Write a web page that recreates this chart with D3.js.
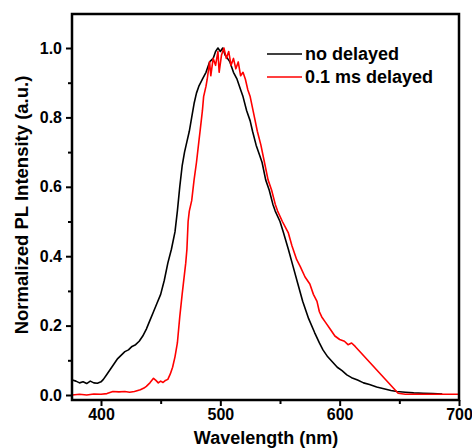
<!DOCTYPE html>
<html>
<head>
    <title>PL spectra</title>
    <script src="https://d3js.org/d3.v7.min.js"></script>
    <style>
        body { margin: 0; background: #fff; }
        text { font-family: "Liberation Sans", Arial, sans-serif; font-weight: bold; fill: #000; }
    </style>
</head>
<body>
    <svg width="472" height="448"></svg>
    <script>
        // wavelength (nm) and normalized intensity
        var blackNm = [376,379,382,385,388,391,394,397,400,402,405,408,411,414,417,420,423,426,429,432,435,438,441,444,447,450,453,456,459,462,464,466,468,470,472,474,476,478,480,482,485,488,491,494,496,498,500,502,504,506,508,511,514,517,519,522,525,527,530,533,535,538,541,544,546,550,553,557,561,565,569,574,579,583,586,590,594,598,602,606,610,615,620,625,631,637,643,648,655,662,670,678,686];
        var blackVal = [0.043,0.04,0.035,0.038,0.033,0.04,0.035,0.034,0.038,0.045,0.06,0.075,0.09,0.105,0.115,0.125,0.13,0.14,0.145,0.155,0.17,0.19,0.215,0.24,0.265,0.29,0.33,0.38,0.42,0.47,0.53,0.6,0.66,0.7,0.73,0.76,0.8,0.84,0.87,0.89,0.91,0.93,0.96,0.97,0.99,1.0,0.99,1.0,0.98,0.97,0.96,0.93,0.91,0.88,0.86,0.82,0.79,0.76,0.72,0.69,0.67,0.62,0.59,0.55,0.53,0.5,0.467,0.42,0.37,0.32,0.27,0.22,0.18,0.15,0.13,0.11,0.095,0.08,0.07,0.058,0.05,0.043,0.035,0.03,0.023,0.018,0.013,0.01,0.008,0.006,0.005,0.004,0.003];

        var redNm = [376,382,388,394,400,405,410,415,420,424,428,433,436,438,441,444,446,448,450,452,454,456,458,460,462,464,466,468,469,471,472,473,474,476,478,480,482,483,485,486,488,489,491,492,494,496,498,499,501,503,505,507,509,511,513,515,517,519,521,523,525,528,531,534,537,540,543,546,548,552,555,557,560,564,567,571,575,578,581,583,585,588,592,596,600,604,607,610,613,649,655,670,685,700];
        var redVal = [0.0,0.002,0.0,0.003,0.002,0.004,0.01,0.009,0.01,0.008,0.01,0.015,0.02,0.025,0.035,0.048,0.042,0.035,0.04,0.036,0.042,0.045,0.06,0.08,0.11,0.15,0.225,0.29,0.32,0.38,0.42,0.5,0.53,0.56,0.62,0.67,0.73,0.76,0.82,0.86,0.89,0.91,0.96,0.92,0.97,0.95,0.99,0.93,0.98,1.0,0.97,0.99,0.95,0.97,0.94,0.96,0.92,0.93,0.91,0.88,0.86,0.81,0.76,0.72,0.67,0.62,0.59,0.55,0.53,0.5,0.48,0.467,0.43,0.39,0.37,0.34,0.32,0.29,0.27,0.24,0.225,0.21,0.19,0.17,0.16,0.155,0.145,0.15,0.14,0.005,0.002,0.002,0.002,0.002];

        var xTicks = [400, 500, 600, 700];
        var yTicks = [0.0, 0.2, 0.4, 0.6, 0.8, 1.0];
        var seriesNames = ["no delayed", "0.1 ms delayed"];
        var seriesColors = ["#000000", "#ff0000"];

        var svg = d3.select("svg");
        var plotL = 72, plotR = 459, plotT = 14, plotB = 400;

        var x = d3.scaleLinear().domain([375.7, 700]).range([plotL, plotR]);
        var y = d3.scaleLinear().domain([-0.0144, 1.098]).range([plotB, plotT]);

        var line = d3.line()
            .x(function(d) { return x(d[0]); })
            .y(function(d) { return y(d[1]); });

        var series = [
            d3.zip(blackNm, blackVal),
            d3.zip(redNm, redVal)
        ];

        svg.append("clipPath").attr("id", "plotclip")
            .append("rect").attr("x", plotL).attr("y", plotT)
            .attr("width", plotR - plotL).attr("height", plotB - plotT);

        var plot = svg.append("g").attr("clip-path", "url(#plotclip)");
        plot.selectAll("path.curve")
            .data(series)
            .enter().append("path")
            .attr("class", "curve")
            .attr("d", line)
            .attr("fill", "none")
            .attr("stroke", function(d, i) { return seriesColors[i]; })
            .attr("stroke-width", 1.6)
            .attr("stroke-linejoin", "round");

        // x axis
        var xAxis = d3.axisBottom(x)
            .tickValues(xTicks)
            .tickSize(6)
            .tickPadding(3)
            .tickFormat(d3.format("d"));
        var gx = svg.append("g")
            .attr("transform", "translate(0," + plotB + ")")
            .call(xAxis);

        var gxMinor = svg.append("g")
            .attr("transform", "translate(0," + plotB + ")")
            .call(d3.axisBottom(x).tickValues([450, 550, 650]).tickSize(4).tickFormat(""));

        // y axis
        var yAxis = d3.axisLeft(y)
            .tickValues(yTicks)
            .tickSize(6)
            .tickPadding(4)
            .tickFormat(d3.format(".1f"));
        var gy = svg.append("g")
            .attr("transform", "translate(" + plotL + ",0)")
            .call(yAxis);
        var gyMinor = svg.append("g")
            .attr("transform", "translate(" + plotL + ",0)")
            .call(d3.axisLeft(y).tickValues([0.1, 0.3, 0.5, 0.7, 0.9]).tickSize(4).tickFormat(""));

        [gx, gxMinor, gy, gyMinor].forEach(function(g) {
            g.select(".domain").remove();
            g.selectAll("line").attr("stroke", "#000").attr("stroke-width", 2);
            g.selectAll("text").style("font-size", "16px").attr("fill", "#000");
        });

        // frame
        svg.append("rect")
            .attr("x", plotL).attr("y", plotT)
            .attr("width", plotR - plotL).attr("height", plotB - plotT)
            .attr("fill", "none").attr("stroke", "#000").attr("stroke-width", 2.5);

        // axis titles
        svg.append("text")
            .attr("x", 266).attr("y", 444)
            .attr("text-anchor", "middle")
            .style("font-size", "18px")
            .text("Wavelength (nm)");

        svg.append("text")
            .attr("transform", "translate(28,205) rotate(-90)")
            .attr("text-anchor", "middle")
            .style("font-size", "18.5px")
            .text("Normalized PL Intensity (a.u.)");

        // legend
        var legend = svg.append("g").attr("transform", "translate(267,54)");
        var items = legend.selectAll("g")
            .data(seriesNames)
            .enter().append("g")
            .attr("transform", function(d, i) { return "translate(0," + (i * 23) + ")"; });
        items.append("line")
            .attr("x1", 0).attr("x2", 35)
            .attr("stroke", function(d, i) { return seriesColors[i]; })
            .attr("stroke-width", 1.6);
        items.append("text")
            .attr("x", 38).attr("y", 6)
            .style("font-size", "18px")
            .text(function(d) { return d; });
    </script>
</body>
</html>
